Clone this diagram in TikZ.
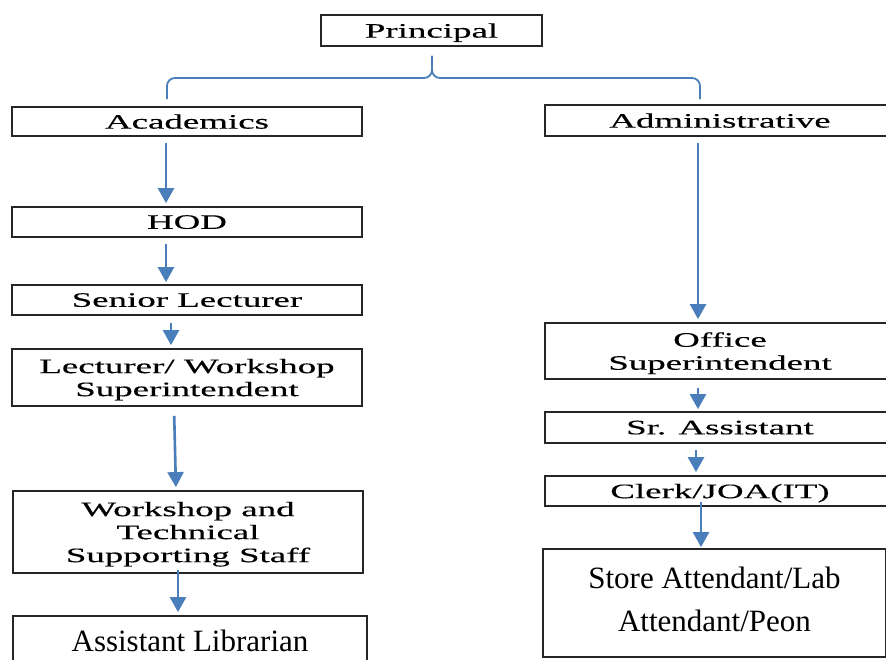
\documentclass[tikz,border=0pt]{standalone}
\usepackage{fontspec}
\setmainfont{Liberation Serif}
\newfontfamily\widefont[FakeStretch=1.8,FakeBold=0.3]{Liberation Serif}
\usepackage{tikz}
\usetikzlibrary{arrows.meta}

\definecolor{linkblue}{RGB}{74,126,187}

\tikzset{
  post/.style={draw=black!85, line width=1.8pt, inner sep=0pt, align=center,
    text depth=0pt, font={\widefont\fontsize{20.5}{23}\selectfont}},
  bigpost/.style={post, text depth=7pt, font={\fontsize{31}{43}\selectfont}},
  arr/.style={draw=linkblue, line width=2.6pt, -{Triangle[length=15pt,width=16pt]}},
  brace/.style={draw=linkblue, line width=1.8pt, rounded corners=8pt}
}

\begin{document}
\begin{tikzpicture}[x=1pt,y=-1pt]
\useasboundingbox (0,0) rectangle (886,660);
\clip (0,0) rectangle (886,660);
\fill[white] (0,0) rectangle (886,660);

% head
\node[post, minimum width=221, minimum height=31] (principal) at (431.5,30.5) {Principal};

% academic side
\node[post, minimum width=350, minimum height=29] (acad) at (187,121.5) {Academics};
\node[post, minimum width=350, minimum height=30] (hod) at (187,222) {HOD};
\node[post, minimum width=350, minimum height=30] (senior) at (187,300) {Senior Lecturer};
\node[post, minimum width=350, minimum height=57] (lect) at (187,377.5) {Lecturer/ Workshop\\Superintendent};
\node[post, minimum width=350, minimum height=82] (wstaff) at (188,532) {Workshop and\\Technical\\Supporting Staff};
\node[bigpost, minimum width=354, minimum height=56] (alib) at (190,644) {Assistant Librarian};

% administrative side
\node[post, minimum width=350, minimum height=31] (admin) at (720,120.5) {Administrative};
\node[post, minimum width=350, minimum height=56] (office) at (720,351) {Office\\Superintendent};
\node[post, minimum width=350, minimum height=31] (srasst) at (720,427.5) {Sr. Assistant};
\node[post, minimum width=350, minimum height=30] (clerk) at (720,491) {Clerk/JOA(IT)};
\node[bigpost, minimum width=343, minimum height=108] (store) at (714.5,603) {Store Attendant/Lab\\Attendant/Peon};

% brace under the principal
\coordinate (bl) at ([xshift=-20pt,yshift=7pt]acad.north);
\coordinate (br) at ([xshift=-20pt,yshift=5pt]admin.north);
\coordinate (top) at ([xshift=0.5pt,yshift=-9pt]principal.south);
\coordinate (fork) at (432,78);
\draw[brace] (bl) |- (fork) -- (top);
\draw[brace] (br) |- (fork) -- (top);

% arrows
\draw[arr, shorten <=6pt, shorten >=3pt] ([xshift=-21pt]acad.south) -- ([xshift=-21pt]hod.north);
\draw[arr, shorten <=6pt, shorten >=2pt] ([xshift=-21pt]hod.south) -- ([xshift=-21pt]senior.north);
\draw[arr, shorten <=7pt, shorten >=3pt] ([xshift=-16pt]senior.south) -- ([xshift=-16pt]lect.north);
\draw[arr, shorten <=9pt, shorten >=3pt] ([xshift=-13pt]lect.south) -- ([xshift=-12pt]wstaff.north);
\draw[arr, shorten <=-4pt, shorten >=3pt] ([xshift=-10pt]wstaff.south) -- ([xshift=-12pt]alib.north);

\draw[arr, shorten <=6pt, shorten >=3pt] ([xshift=-22pt]admin.south) -- ([xshift=-22pt]office.north);
\draw[arr, shorten <=8pt, shorten >=2pt] ([xshift=-22pt]office.south) -- ([xshift=-22pt]srasst.north);
\draw[arr, shorten <=6pt, shorten >=3pt] ([xshift=-24pt]srasst.south) -- ([xshift=-24pt]clerk.north);
\draw[arr, shorten <=-5pt, shorten >=1pt] ([xshift=-19pt]clerk.south) -- ([xshift=-13.5pt]store.north);

\end{tikzpicture}
\end{document}
